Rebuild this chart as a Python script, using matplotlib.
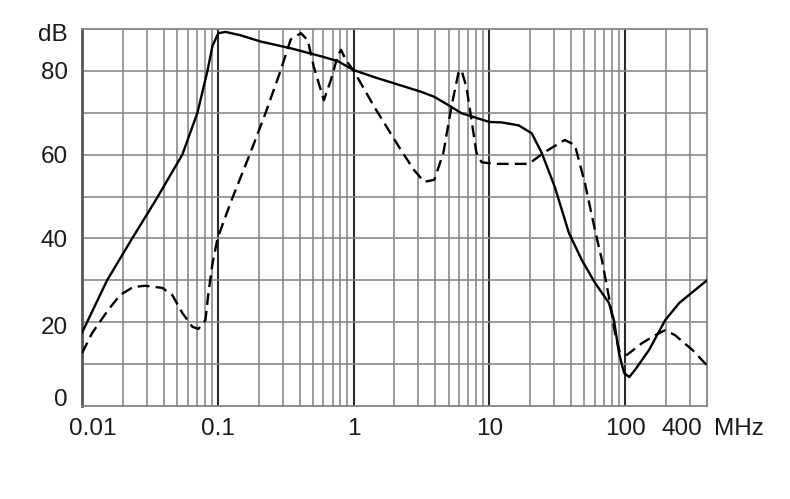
"""
Attenuation vs frequency, two filter curves on a log-frequency grid.
"""
import matplotlib
matplotlib.use("Agg")
import matplotlib.pyplot as plt
import numpy as np

# solid curve
solid_f = [0.01, 0.0153, 0.0234, 0.0347, 0.0548, 0.0708, 0.0839, 0.0914, 0.101, 0.114,
           0.147, 0.207, 0.344, 0.604, 0.767, 1.0, 1.42, 3.15, 3.93, 5.25, 6.22,
           10.0, 12.3, 16.4, 20.5, 24.3, 30.3, 38.5, 48.0, 59.9, 75.9, 82.6, 90.0,
           98.0, 107.0, 118.0, 150.0, 197.0, 250.0, 400.0]
solid_db = [17.5, 30.0, 40.0, 49.0, 60.0, 70.0, 80.0, 86.0, 89.0, 89.3,
            88.5, 87.0, 85.4, 83.3, 82.3, 80.2, 78.5, 75.0, 73.8, 71.4, 69.9,
            67.8, 67.7, 67.0, 65.1, 60.4, 52.3, 41.3, 34.8, 29.4, 24.6, 20.5, 12.6,
            7.9, 6.9, 8.6, 13.4, 20.5, 24.6, 30.0]

# dashed curve
dash_f = [0.01, 0.01186, 0.01556, 0.0191, 0.0238, 0.0292, 0.039, 0.0462, 0.0548,
          0.065, 0.072, 0.0811, 0.0853, 0.0914, 0.0995, 0.124, 0.175, 0.225, 0.291,
          0.344, 0.409, 0.46, 0.509, 0.604, 0.68, 0.767, 0.807, 0.879, 1.02, 1.42,
          2.24, 2.79, 3.31, 3.93, 4.58, 5.25, 5.91, 6.22, 6.78, 7.38, 8.03, 8.75,
          10.9, 19.5, 25.5, 35.9, 42.6, 50.5, 59.9, 67.4, 75.9, 84.1, 91.6, 103.0,
          133.0, 166.0, 197.0, 233.0, 312.0, 400.0]
dash_db = [12.6, 17.4, 22.9, 26.5, 28.4, 28.7, 28.2, 26.5, 22.2,
           18.9, 18.4, 20.5, 27.0, 34.0, 40.0, 48.5, 60.7, 70.0, 80.2,
           87.5, 89.0, 87.3, 81.0, 73.0, 77.8, 83.8, 85.0, 82.6, 79.6, 71.4,
           61.0, 56.3, 53.5, 54.0, 60.4, 71.4, 79.5, 80.2, 76.1, 68.3, 60.4, 58.2,
           57.8, 57.8, 60.6, 63.5, 62.3, 53.2, 42.0, 34.8, 26.0, 17.4, 12.6, 12.2,
           15.0, 16.9, 18.1, 16.9, 13.4, 9.7]

x_ticks = [0.1, 1, 10, 100]
x_labels = ["0.1", "1", "10", "100"]
# label anchors (the "0" sits a little above its grid line)
y_ticks = [2.1, 19.2, 40, 60, 80, 89.2]
y_labels = ["0", "20", "40", "60", "80", "dB"]

plt.rcParams["font.family"] = ["Liberation Sans", "DejaVu Sans"]

fig = plt.figure(figsize=(7.9, 4.99), dpi=100)
ax = fig.add_axes([0.1038, 0.1864, 0.7911, 0.7555])
ax.set_xscale("log")
ax.set_xlim(0.01, 400)
ax.set_ylim(0, 90)

# grid
grid_c = "#858585"
for dec in [0.01, 0.1, 1, 10, 100]:
    for k in range(1, 10):
        v = dec * k
        if v <= 0.01 or v >= 400:
            continue
        if k == 1:
            ax.axvline(v, color="#2a2a2a", lw=1.5, zorder=1)
        else:
            ax.axvline(v, color=grid_c, lw=1.15, zorder=1)
for v in range(10, 90, 10):
    ax.axhline(v, color=grid_c, lw=1.15, zorder=1)

for side in ["top", "right", "bottom"]:
    ax.spines[side].set_color(grid_c)
    ax.spines[side].set_linewidth(1.3)
ax.spines["left"].set_color("#555555")
ax.spines["left"].set_linewidth(2.0)

ax.plot(solid_f, solid_db, color="black", lw=1.7, zorder=3)
ax.plot(dash_f, dash_db, color="black", lw=1.7, ls=(0, (5, 2.6)), zorder=3)

ax.set_xticks(x_ticks)
ax.set_xticklabels(x_labels)
ax.xaxis.set_minor_locator(matplotlib.ticker.NullLocator())
ax.set_yticks(y_ticks)
ax.set_yticklabels(y_labels)
ax.tick_params(length=0, labelsize=17.5, colors="#1a1a1a")
ax.tick_params(axis="x", pad=9)
ax.tick_params(axis="y", pad=10)

tr = ax.get_xaxis_transform()
for xv, txt in [(0.0119, "0.01"), (263, "400"), (682, "MHz")]:
    ax.text(xv, -0.033, txt, transform=tr, ha="center", va="top",
            fontsize=17.5, color="#1a1a1a", clip_on=False)

fig.savefig("out.png", dpi=100)
plt.close(fig)
